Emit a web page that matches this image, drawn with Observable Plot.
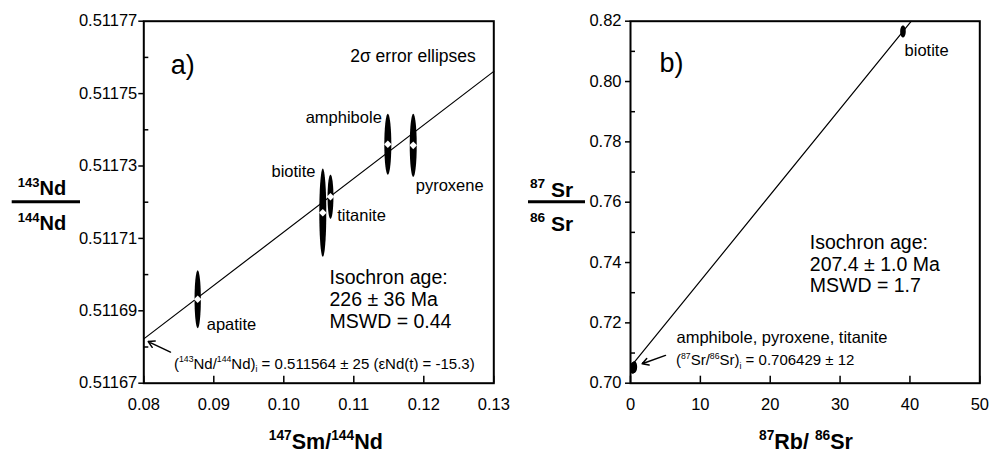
<!DOCTYPE html>
<html><head><meta charset="utf-8">
<script src="https://cdn.jsdelivr.net/npm/d3@7"></script>
<script src="https://cdn.jsdelivr.net/npm/@observablehq/plot@0.6"></script>
<style>
html,body{margin:0;padding:0;background:#fff;}
#wrap{position:relative;width:989px;height:454px;overflow:hidden;}
#wrap svg{position:absolute;top:0;overflow:visible;}
</style></head><body><div id="wrap"></div>
<script>
// ---------- Panel a) Sm-Nd ----------
const ndMinerals = ["apatite", "biotite", "titanite", "amphibole", "pyroxene"];
const ndSmNd = [0.0877, 0.10557, 0.10667, 0.11486, 0.11849];      // 147Sm/144Nd
const ndNdNd = [0.5116932, 0.5117171, 0.5117215, 0.5117360, 0.5117357]; // 143Nd/144Nd
const ndSmNdErr = [0.00045, 0.0005, 0.00042, 0.0005, 0.0005];
const ndNdNdErr = [0.0000080, 0.0000122, 0.0000061, 0.0000084, 0.0000087];
const ndIntercept = 0.511564;
const ndSlope = 0.001478;
const ndXTicks = [0.08, 0.09, 0.10, 0.11, 0.12, 0.13];
const ndYTicks = [0.51167, 0.51169, 0.51171, 0.51173, 0.51175, 0.51177];
const ndYMinor = [0.51168, 0.51170, 0.51172, 0.51174, 0.51176];

// ---------- Panel b) Rb-Sr ----------
const srMinerals = ["pyroxene", "amphibole", "titanite", "biotite"];
const srRbSr = [0.3, 0.45, 0.55, 39.0];          // 87Rb/86Sr
const srSrSr = [0.7050, 0.7052, 0.7054, 0.8166]; // 87Sr/86Sr
const srRbSrErr = [0.4, 0.4, 0.4, 0.4];
const srSrSrErr = [0.0019, 0.0019, 0.0019, 0.0020];
const srIntercept = 0.7054;
const srSlope = 0.002851;
const srXTicks = [0, 10, 20, 30, 40, 50];
const srYTicks = [0.70, 0.72, 0.74, 0.76, 0.78, 0.80, 0.82];
const srYMinor = [0.71, 0.73, 0.75, 0.77, 0.79, 0.81];

const FONT = '"Liberation Sans", Arial, Helvetica, sans-serif';

function ellipses(names, xs, ys, exs, eys) {
  const out = [];
  names.forEach((m, i) => {
    for (let k = 0; k < 60; k++) {
      const t = 2 * Math.PI * k / 60;
      out.push({m, x: xs[i] + exs[i] * Math.cos(t), y: ys[i] + eys[i] * Math.sin(t)});
    }
  });
  return out;
}

function rich(svg, x, y, parts, {size, weight = "normal", anchor = "start", supScale = 0.62}) {
  const t = d3.select(svg).append("text").attr("x", x).attr("y", y).attr("text-anchor", anchor)
    .attr("font-family", FONT).attr("font-size", size).attr("font-weight", weight).attr("fill", "black");
  let shift = 0;
  for (const [s, kind] of parts) {
    const target = kind === "sup" ? -0.42 * size : kind === "sub" ? 0.22 * size : 0;
    const sz = kind ? supScale * size : size;
    t.append("tspan").attr("dy", target - shift).attr("font-size", sz).text(s);
    shift = target;
  }
  return t;
}

const style = {fontFamily: FONT, fontSize: "16.5px", color: "black", background: "transparent", overflow: "visible"};

// ---------- build panel a ----------
const ndEll = ellipses(ndMinerals, ndSmNd, ndNdNd, ndSmNdErr, ndNdNdErr);
const ndPts = ndMinerals.map((m, i) => ({m, x: ndSmNd[i], y: ndNdNd[i]}));
const ndX0 = ndXTicks[0], ndX1 = ndXTicks[ndXTicks.length - 1];
const ndLine = [ndX0, ndX1].map(x => ({x, y: ndIntercept + ndSlope * x}));
const ndLabel = (name, anchor, dx, dy) => Plot.text(ndPts.filter(d => d.m === name),
  {x: "x", y: "y", text: "m", textAnchor: anchor, dx, dy, fontSize: 16.5});

const A = {left: 143.3, right: 6.7, top: 20.7, bottom: 71.3};
const chartA = Plot.plot({
  width: 500, height: 454,
  marginLeft: A.left, marginRight: A.right, marginTop: A.top, marginBottom: A.bottom,
  x: {domain: [0.08, 0.13]}, y: {domain: [0.51167, 0.51177]},
  style,
  marks: [
    Plot.line(ndLine, {x: "x", y: "y", stroke: "black", strokeWidth: 1.2}),
    Plot.line(ndEll, {x: "x", y: "y", z: "m", fill: "black", stroke: "none", curve: "linear-closed"}),
    Plot.dot(ndPts, {x: "x", y: "y", symbol: "diamond2", r: 3.4, fill: "white", stroke: "none"}),
    Plot.axisY(ndYTicks, {anchor: "left", tickSize: 5, tickPadding: 1.5, tickFormat: d3.format(".5f"), fontSize: 16.5, strokeWidth: 1.5, label: null}),
    Plot.axisY(ndYMinor, {anchor: "left", tickSize: -5, fill: "none", strokeWidth: 1.5, label: null}),
    Plot.axisX(ndXTicks, {anchor: "bottom", tickSize: -7, fill: "none", strokeWidth: 1.5, label: null}),
    Plot.axisX(ndXTicks, {anchor: "bottom", tickSize: 0, tickPadding: 15, tickFormat: d3.format(".2f"), fontSize: 16.5, label: null}),
    Plot.frame({stroke: "black", strokeWidth: 2}),
    ndLabel("amphibole", "end", -6, -27),
    ndLabel("pyroxene", "start", 2.5, 40),
    ndLabel("biotite", "end", -7.3, -40.5),
    ndLabel("titanite", "start", 6.7, 18.5),
    ndLabel("apatite", "start", 9, 25.3),
    Plot.text(["a)"], {frameAnchor: "top-left", dx: 27, dy: 34, text: d => d, fontSize: 27, textAnchor: "start"}),
    Plot.text(["2σ error ellipses"], {frameAnchor: "top-right", dx: -18, dy: 28.3, text: d => d, fontSize: 17.5, textAnchor: "end"}),
    Plot.text(["Isochron age:\n226 ± 36 Ma\nMSWD = 0.44"], {frameAnchor: "left", dx: 185.7, dy: 96.6, text: d => d, fontSize: 19.5, textAnchor: "start", lineAnchor: "middle", lineHeight: 1.13}),
    Plot.arrow([0], {x1: 0.08381, y1: 0.5116786, x2: 0.08063, y2: 0.5116815, stroke: "black", strokeWidth: 1.5, headLength: 7})
  ]
});

// ---------- build panel b ----------
const srEll = ellipses(srMinerals, srRbSr, srSrSr, srRbSrErr, srSrSrErr);
const srPts = srMinerals.map((m, i) => ({m, x: srRbSr[i], y: srSrSr[i]}));
const srYTop = srYTicks[srYTicks.length - 1];
const srLine = [srXTicks[0], (srYTop - srIntercept) / srSlope].map(x => ({x, y: srIntercept + srSlope * x}));

const B = {left: 130, right: 9.7, top: 20.7, bottom: 71.3};
const chartB = Plot.plot({
  width: 489, height: 454,
  marginLeft: B.left, marginRight: B.right, marginTop: B.top, marginBottom: B.bottom,
  x: {domain: [0, 50]}, y: {domain: [0.70, 0.82]},
  style,
  marks: [
    Plot.line(srLine, {x: "x", y: "y", stroke: "black", strokeWidth: 1.2, clip: true}),
    Plot.line(srEll, {x: "x", y: "y", z: "m", fill: "black", stroke: "none", curve: "linear-closed", clip: true}),
    Plot.axisY(srYTicks, {anchor: "left", tickSize: 5, tickPadding: 4, tickFormat: d3.format(".2f"), fontSize: 16.5, strokeWidth: 1.5, label: null}),
    Plot.axisY(srYMinor, {anchor: "left", tickSize: -5, fill: "none", strokeWidth: 1.5, label: null}),
    Plot.axisX(srXTicks, {anchor: "bottom", tickSize: -7, fill: "none", strokeWidth: 1.5, label: null}),
    Plot.axisX(srXTicks, {anchor: "bottom", tickSize: 0, tickPadding: 15, tickFormat: d3.format("d"), fontSize: 16.5, label: null}),
    Plot.frame({stroke: "black", strokeWidth: 2}),
    Plot.text(srPts.filter(d => d.m === "biotite"), {x: "x", y: "y", text: "m", textAnchor: "start", dx: 1.6, dy: 19, fontSize: 16.5}),
    Plot.text(["b)"], {frameAnchor: "top-left", dx: 29, dy: 32, text: d => d, fontSize: 27, textAnchor: "start"}),
    Plot.text(["Isochron age:\n207.4 ± 1.0 Ma\nMSWD = 1.7"], {frameAnchor: "left", dx: 179.3, dy: 61.3, text: d => d, fontSize: 19.5, textAnchor: "start", lineAnchor: "middle", lineHeight: 1.12}),
    Plot.text(["amphibole, pyroxene, titanite"], {frameAnchor: "bottom-left", dx: 46, dy: -40.7, text: d => d, fontSize: 16.5, textAnchor: "start"}),
    Plot.arrow([0], {x1: 5.01, y1: 0.70921, x2: 1.675, y2: 0.70643, stroke: "black", strokeWidth: 1.5, headLength: 7})
  ]
});

const wrap = document.getElementById("wrap");
chartB.style.left = "500px";
chartA.style.left = "0px";
wrap.appendChild(chartB);
wrap.appendChild(chartA);

// ---------- axis titles and rich annotations (super/subscripts) ----------
// panel a
rich(chartA, 42, 195, [["143", "sup"], ["Nd", null]], {size: 20, weight: "bold", anchor: "middle", supScale: 0.65});
rich(chartA, 42, 230, [["144", "sup"], ["Nd", null]], {size: 20, weight: "bold", anchor: "middle", supScale: 0.65});
d3.select(chartA).append("line").attr("x1", 11.7).attr("x2", 80).attr("y1", 201.7).attr("y2", 201.7).attr("stroke", "black").attr("stroke-width", 3);
rich(chartA, 325.8, 449, [["147", "sup"], ["Sm/", null], ["144", "sup"], ["Nd", null]], {size: 21.5, weight: "bold", anchor: "middle", supScale: 0.64});
rich(chartA, A.left + 30.7, 368.7, [["(", null], ["143", "sup"], ["Nd/", null], ["144", "sup"], ["Nd)", null], ["i", "sub"], [" = 0.511564 ± 25 (εNd(t) = -15.3)", null]], {size: 15, supScale: 0.58});

// panel b
rich(chartB, 51.5, 196.5, [["87", "sup"], [" Sr", null]], {size: 21, weight: "bold", anchor: "middle", supScale: 0.65});
rich(chartB, 51.5, 231, [["86", "sup"], [" Sr", null]], {size: 21, weight: "bold", anchor: "middle", supScale: 0.65});
d3.select(chartB).append("line").attr("x1", 28).attr("x2", 85).attr("y1", 201.7).attr("y2", 201.7).attr("stroke", "black").attr("stroke-width", 3);
rich(chartB, 306, 449, [["87", "sup"], ["Rb/ ", null], ["86", "sup"], ["Sr", null]], {size: 21.5, weight: "bold", anchor: "middle", supScale: 0.64});
rich(chartB, B.left + 46, 365.2, [["(", null], ["87", "sup"], ["Sr/", null], ["86", "sup"], ["Sr)", null], ["i", "sub"], [" = 0.706429 ± 12", null]], {size: 15, supScale: 0.58});
</script>
</body></html>
